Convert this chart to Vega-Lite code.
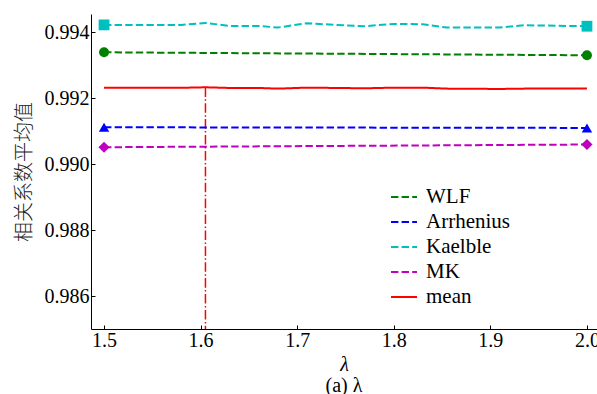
{
  "$schema": "https://vega.github.io/schema/vega-lite/v6.json",
  "width": 506,
  "height": 315,
  "autosize": {"type": "none"},
  "padding": {"left": 91, "top": 14, "right": 0, "bottom": 65},
  "background": "white",
  "config": {
    "view": {"stroke": null},
    "font": "Liberation Serif",
    "axis": {
      "grid": false,
      "domainColor": "black",
      "domainWidth": 1,
      "tickColor": "black",
      "tickWidth": 1,
      "tickSize": -4,
      "labelFont": "Liberation Serif",
      "labelFontSize": 20,
      "labelColor": "black",
      "titleColor": "black",
      "titleFontWeight": "normal"
    },
    "legend": {
      "labelFont": "Liberation Serif",
      "labelFontSize": 21,
      "labelColor": "black"
    }
  },
  "title": {
    "text": "(a)  λ",
    "orient": "bottom",
    "font": "Liberation Serif",
    "fontSize": 20,
    "fontWeight": "normal",
    "color": "black",
    "offset": 2
  },
  "datasets": {
    "curves": [
      {"lambda": 1.5, "series": "WLF", "value": 0.99339},
      {"lambda": 1.75, "series": "WLF", "value": 0.993345},
      {"lambda": 2.0, "series": "WLF", "value": 0.9933},
      {"lambda": 1.5, "series": "Arrhenius", "value": 0.99112},
      {"lambda": 1.75, "series": "Arrhenius", "value": 0.99111},
      {"lambda": 2.0, "series": "Arrhenius", "value": 0.9911},
      {"lambda": 1.5, "series": "Kaelble", "value": 0.99422},
      {"lambda": 1.55, "series": "Kaelble", "value": 0.99422},
      {"lambda": 1.58, "series": "Kaelble", "value": 0.99422},
      {"lambda": 1.605, "series": "Kaelble", "value": 0.99428},
      {"lambda": 1.63, "series": "Kaelble", "value": 0.99419},
      {"lambda": 1.66, "series": "Kaelble", "value": 0.99419},
      {"lambda": 1.68, "series": "Kaelble", "value": 0.99414},
      {"lambda": 1.71, "series": "Kaelble", "value": 0.99427},
      {"lambda": 1.74, "series": "Kaelble", "value": 0.99422},
      {"lambda": 1.77, "series": "Kaelble", "value": 0.99418},
      {"lambda": 1.8, "series": "Kaelble", "value": 0.99425},
      {"lambda": 1.83, "series": "Kaelble", "value": 0.99424},
      {"lambda": 1.855, "series": "Kaelble", "value": 0.99414},
      {"lambda": 1.91, "series": "Kaelble", "value": 0.99414},
      {"lambda": 1.935, "series": "Kaelble", "value": 0.99421},
      {"lambda": 2.0, "series": "Kaelble", "value": 0.99418},
      {"lambda": 1.5, "series": "MK", "value": 0.990515},
      {"lambda": 1.75, "series": "MK", "value": 0.990556},
      {"lambda": 2.0, "series": "MK", "value": 0.990597},
      {"lambda": 1.5, "series": " mean", "value": 0.992315},
      {"lambda": 1.55, "series": " mean", "value": 0.992315},
      {"lambda": 1.58, "series": " mean", "value": 0.992315},
      {"lambda": 1.605, "series": " mean", "value": 0.99233},
      {"lambda": 1.63, "series": " mean", "value": 0.99231},
      {"lambda": 1.66, "series": " mean", "value": 0.99231},
      {"lambda": 1.68, "series": " mean", "value": 0.99229},
      {"lambda": 1.71, "series": " mean", "value": 0.99232},
      {"lambda": 1.74, "series": " mean", "value": 0.99231},
      {"lambda": 1.77, "series": " mean", "value": 0.9923},
      {"lambda": 1.8, "series": " mean", "value": 0.99232},
      {"lambda": 1.83, "series": " mean", "value": 0.99232},
      {"lambda": 1.855, "series": " mean", "value": 0.99229},
      {"lambda": 1.91, "series": " mean", "value": 0.99228},
      {"lambda": 1.935, "series": " mean", "value": 0.99229},
      {"lambda": 2.0, "series": " mean", "value": 0.99229}
    ],
    "optimum": [
      {"lambda": 1.605, "value": 0.99233}
    ]
  },
  "layer": [
    {
      "data": {"name": "optimum"},
      "mark": {"type": "rule", "color": "#ff0000", "strokeWidth": 1.5, "strokeDash": [9.6, 2.4, 1.5, 2.4]},
      "encoding": {
        "x": {"field": "lambda", "type": "quantitative"},
        "y": {"field": "value", "type": "quantitative"},
        "y2": {"datum": 0.98501}
      }
    },
    {
      "data": {"name": "curves"},
      "mark": {"type": "line", "strokeCap": "butt"},
      "encoding": {
        "x": {
          "field": "lambda",
          "type": "quantitative",
          "scale": {"domain": [1.4865, 2.0104], "nice": false, "zero": false},
          "axis": {
            "title": "λ",
            "titleFont": "Liberation Serif",
            "titleFontSize": 20,
            "titleFontStyle": "italic",
            "titlePadding": 4,
            "values": [1.5, 1.6, 1.7, 1.8, 1.9, 2.0],
            "format": ".1f",
            "labelPadding": 5
          }
        },
        "y": {
          "field": "value",
          "type": "quantitative",
          "scale": {"domain": [0.98501, 0.99455], "nice": false, "zero": false},
          "axis": {
            "title": "相关系数平均值",
            "titleFont": "Noto Sans CJK SC",
            "titleFontSize": 20,
            "titleFontWeight": 300,
            "titleColor": "#222222",
            "titlePadding": 10,
            "values": [0.986, 0.988, 0.99, 0.992, 0.994],
            "format": ".3f",
            "labelPadding": 6
          }
        },
        "color": {
          "field": "series",
          "type": "nominal",
          "scale": {
            "domain": ["WLF", "Arrhenius", "Kaelble", "MK", " mean"],
            "range": ["#008000", "#0000ff", "#00bfbf", "#bf00bf", "#ff0000"]
          },
          "legend": {
            "title": null,
            "orient": "none",
            "legendX": 299,
            "legendY": 169,
            "padding": 0,
            "symbolType": "stroke",
            "symbolSize": 676,
            "symbolStrokeWidth": 2,
            "labelOffset": 8,
            "rowPadding": 1
          }
        },
        "strokeDash": {
          "field": "series",
          "type": "nominal",
          "scale": {
            "domain": ["WLF", "Arrhenius", "Kaelble", "MK", " mean"],
            "range": [[7.4, 3.2], [7.4, 3.2], [7.4, 3.2], [7.4, 3.2], [1, 0]]
          },
          "legend": null
        },
        "strokeWidth": {
          "field": "series",
          "type": "nominal",
          "scale": {
            "domain": ["WLF", "Arrhenius", "Kaelble", "MK", " mean"],
            "range": [2, 2, 2, 2, 3]
          },
          "legend": null
        }
      }
    },
    {
      "data": {"name": "curves"},
      "transform": [
        {"filter": "datum.series != ' mean' && (datum.lambda == 1.5 || datum.lambda == 2.0)"}
      ],
      "mark": {"type": "point", "filled": true, "opacity": 1, "strokeWidth": 0},
      "encoding": {
        "x": {"field": "lambda", "type": "quantitative"},
        "y": {"field": "value", "type": "quantitative"},
        "fill": {
          "field": "series",
          "type": "nominal",
          "scale": {
            "domain": ["WLF", "Arrhenius", "Kaelble", "MK"],
            "range": ["#008000", "#0000ff", "#00bfbf", "#bf00bf"]
          },
          "legend": null
        },
        "shape": {
          "field": "series",
          "type": "nominal",
          "scale": {
            "domain": ["WLF", "Arrhenius", "Kaelble", "MK"],
            "range": ["circle", "triangle-up", "square", "diamond"]
          },
          "legend": null
        },
        "size": {
          "field": "series",
          "type": "nominal",
          "scale": {
            "domain": ["WLF", "Arrhenius", "Kaelble", "MK"],
            "range": [100, 125, 121, 200]
          },
          "legend": null
        }
      }
    }
  ]
}
